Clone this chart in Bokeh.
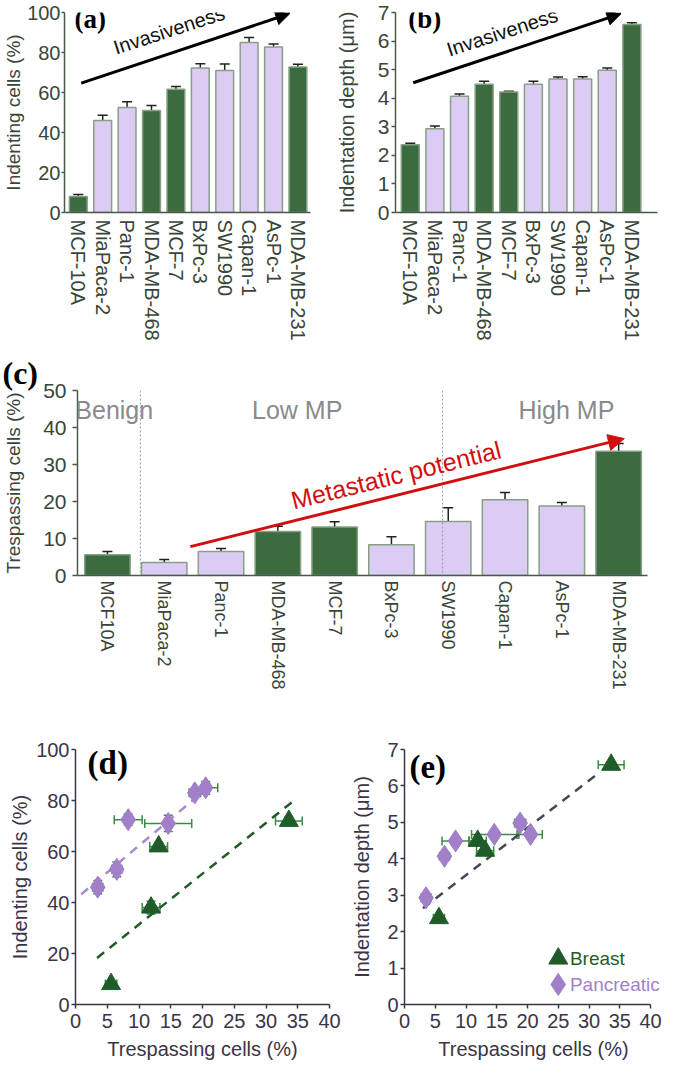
import numpy as np
from bokeh.plotting import figure
from bokeh.layouts import column, row
from bokeh.models import (ColumnDataSource, Range1d, FixedTicker, Whisker, TeeHead,
                          Arrow, NormalHead, Label, Span)
from bokeh.embed import file_html
from bokeh.resources import INLINE

# ---------------- data ----------------
cells_ab = ["MCF-10A", "MiaPaca-2", "Panc-1", "MDA-MB-468", "MCF-7",
            "BxPc-3", "SW1990", "Capan-1", "AsPc-1", "MDA-MB-231"]
cells_c = ["MCF10A", "MiaPaca-2", "Panc-1", "MDA-MB-468", "MCF-7",
           "BxPc-3", "SW1990", "Capan-1", "AsPc-1", "MDA-MB-231"]
tissue = ["breast", "pancreatic", "pancreatic", "breast", "breast",
          "pancreatic", "pancreatic", "pancreatic", "pancreatic", "breast"]
indenting = [8, 46, 52.5, 51, 61.6, 72.2, 71, 85, 82.8, 72.7]
indenting_err = [1.0, 2.6, 2.9, 2.5, 1.4, 2.2, 3.2, 2.5, 1.5, 1.4]
depth = [2.37, 2.93, 4.07, 4.49, 4.22, 4.49, 4.67, 4.67, 4.98, 6.58]
depth_err = [0.05, 0.10, 0.08, 0.10, 0.02, 0.10, 0.07, 0.08, 0.08, 0.06]
trespassing = [5.6, 3.5, 6.5, 11.9, 13.1, 8.3, 14.6, 20.5, 18.8, 33.6]
trespassing_err = [0.9, 0.8, 0.8, 1.4, 1.4, 2.2, 3.7, 1.9, 0.9, 2.1]
indenting_scatter = [8, 46, 53, 38, 62, 72.5, 71, 85, 83, 72]

yticks_a = [0, 20, 40, 60, 80, 100]
yticks_b = [0, 1, 2, 3, 4, 5, 6, 7]
yticks_c = [0, 10, 20, 30, 40, 50]
xticks_de = [0, 5, 10, 15, 20, 25, 30, 35, 40]
yticks_d = [0, 20, 40, 60, 80, 100]
yticks_e = [0, 1, 2, 3, 4, 5, 6, 7]

group_names = ["Benign", "Low MP", "High MP"]
group_centers = [0.12, 3.34, 8.08]
group_dividers = [0.58, 5.9]

# linear fits: slope, intercept, x-start, x-end
fit_d_breast = [1.99, 11.5, 3.4, 34.6]
fit_d_pancreatic = [2.1, 41.3, 0.9, 21.4]
fit_e_all = [0.13, 2.25, 3.0, 31.5]

# ---------------- style ----------------
FONT = "Liberation Sans"
SERIF = "Liberation Serif"
GREEN = "#3d6b40"
LAV = "#dccbf3"
BAR_LINE = "#86a086"
ERR = "#202020"
TXT_G = "#384538"
AX_G = "#4a574a"
TXT_P = "#3b3448"
SC_GREEN = "#1f5c2a"
SC_PURPLE = "#a27fc9"
SC_ERR = "#3b8a45"
GRAY_LBL = "#8a8a8a"
RED = "#d10f0f"

colors = [GREEN if t == "breast" else LAV for t in tissue]


def style_axes(p, txt, ax, tick_font="21px", title_font="20px"):
    p.xgrid.visible = False
    p.ygrid.visible = False
    p.outline_line_color = None
    for a in (p.xaxis[0], p.yaxis[0]):
        a.axis_line_color = ax
        a.axis_line_width = 1.5
        a.major_tick_line_color = ax
        a.major_tick_line_width = 1.5
        a.minor_tick_line_color = None
        a.major_tick_in = 0
        a.major_label_text_font = FONT
        a.major_label_text_font_size = tick_font
        a.major_label_text_color = txt
        a.axis_label_text_font = FONT
        a.axis_label_text_font_size = title_font
        a.axis_label_text_font_style = "normal"
        a.axis_label_text_color = txt


def bar_fig(width, height, borders, xr, yr, labels, values, errs, bw, yticks, ytitle,
            tick_out, label_standoff, title_standoff, title_font="20px", cat_font="20px",
            cat_standoff=7, tick_font="21px"):
    left, right, top, bottom = borders
    p = figure(width=width, height=height, x_range=Range1d(*xr), y_range=Range1d(*yr),
               output_backend="svg", toolbar_location=None,
               min_border_left=left, min_border_right=right,
               min_border_top=top, min_border_bottom=bottom)
    n = len(values)
    v = np.array(values, dtype=float)
    e = np.array(errs, dtype=float)
    src = ColumnDataSource(dict(x=np.arange(n), top=v, color=colors,
                                upper=v + e, lower=v - e))
    p.vbar(x="x", top="top", width=bw, source=src, fill_color="color",
           line_color=BAR_LINE, line_width=1.5)
    p.add_layout(Whisker(source=src, base="x", upper="upper", lower="lower",
                         line_color=ERR, line_width=1.5,
                         upper_head=TeeHead(size=10, line_color=ERR, line_width=1.5),
                         lower_head=TeeHead(size=10, line_color=ERR, line_width=1.5)))
    style_axes(p, TXT_G, AX_G, tick_font=tick_font, title_font=title_font)
    p.xaxis.ticker = FixedTicker(ticks=list(range(n)))
    p.xaxis.major_label_overrides = {i: lab for i, lab in enumerate(labels)}
    p.xaxis.major_label_orientation = "vertical"
    p.xaxis.major_label_text_font_size = cat_font
    p.xaxis.major_tick_line_color = None
    p.xaxis.major_tick_out = 0
    p.xaxis.major_label_standoff = cat_standoff
    p.yaxis.ticker = FixedTicker(ticks=yticks)
    p.yaxis.major_tick_out = tick_out
    p.yaxis.major_label_standoff = label_standoff
    p.yaxis.axis_label = ytitle
    p.yaxis.axis_label_standoff = title_standoff
    return p


# ---------------- (a) ----------------
pa = bar_fig(332, 352, (60, 22, 12, 140), (-0.565, 9.515), (0, 100), cells_ab,
             indenting, indenting_err, 0.73, yticks_a, "Indenting cells (%)",
             3, 1, 0, title_font="19px", tick_font="20px")
pa.add_layout(Arrow(x_start=0.12, y_start=64.7, x_end=8.67, y_end=99.5, line_width=3,
                    line_color="black",
                    end=NormalHead(size=14, fill_color="black", line_color="black")))
pa.add_layout(Label(x=1.61, y=77, text="Invasiveness", angle=0.315, text_font=FONT,
                    text_font_size="20px", text_color="#111111"))
pa.add_layout(Label(x=-0.16, y=97, text="(a)", text_font=SERIF, text_font_style="bold",
                    text_font_size="27px", text_baseline="middle", text_color="black"))

# ---------------- (b) ----------------
pb = bar_fig(330, 352, (59, 5, 12, 139), (-0.6, 10.04), (0, 7), cells_ab,
             depth, depth_err, 0.73, yticks_b, "Indentation depth (μm)",
             4, 2, 17)
pb.add_layout(Arrow(x_start=0.12, y_start=4.54, x_end=8.56, y_end=6.96, line_width=3,
                    line_color="black",
                    end=NormalHead(size=14, fill_color="black", line_color="black")))
pb.add_layout(Label(x=1.64, y=5.32, text="Invasiveness", angle=0.315, text_font=FONT,
                    text_font_size="20px", text_color="#111111"))
pb.add_layout(Label(x=-0.08, y=6.79, text="(b)", text_font=SERIF, text_font_style="bold",
                    text_font_size="27px", text_baseline="middle", text_color="black"))

# ---------------- (c) ----------------
pc = bar_fig(662, 358, (76, 15, 38, 135), (-0.527, 9.508), (0, 50), cells_c,
             trespassing, trespassing_err, 0.8, yticks_c, "Trespassing cells (%)",
             5, 6, 16, title_font="19px", cat_font="18px", cat_standoff=5)
pc.title.text = "(c)"
pc.title.text_font = SERIF
pc.title.text_font_style = "bold"
pc.title.text_font_size = "32px"
pc.title.text_color = "black"
pc.title.align = "left"
pc.title.offset = -75
pc.title.standoff = 0
for d in group_dividers:
    pc.add_layout(Span(location=d, dimension="height", line_color="#9a9a9a",
                       line_width=1, line_dash="2 2"))
for name, cx in zip(group_names, group_centers):
    pc.add_layout(Label(x=cx, y=44.6, text=name, text_font=FONT, text_font_size="25px",
                        text_color=GRAY_LBL, text_align="center", text_baseline="middle"))
pc.add_layout(Arrow(x_start=1.46, y_start=7.8, x_end=9.1, y_end=37.0, line_width=3,
                    line_color=RED,
                    end=NormalHead(size=16, fill_color=RED, line_color=RED)))
pc.add_layout(Label(x=3.3, y=16.5, text="Metastatic potential", angle=0.2426,
                    text_font=FONT, text_font_size="25px", text_color=RED))


# ---------------- scatter helpers ----------------
def scatter_fig(width, height, borders, xend, yr, yticks, ytitle, y_standoff, y_label_standoff):
    left, right, top, bottom = borders
    p = figure(width=width, height=height, x_range=Range1d(0, xend), y_range=Range1d(*yr),
               output_backend="svg", toolbar_location=None,
               min_border_left=left, min_border_right=right,
               min_border_top=top, min_border_bottom=bottom)
    style_axes(p, TXT_P, TXT_P, tick_font="20px")
    p.xaxis.ticker = FixedTicker(ticks=xticks_de)
    p.xaxis.bounds = (xticks_de[0], xticks_de[-1])
    p.yaxis.ticker = FixedTicker(ticks=yticks)
    p.xaxis.major_tick_out = 4
    p.yaxis.major_tick_out = 4
    p.xaxis.major_label_standoff = 5
    p.yaxis.major_label_standoff = y_label_standoff
    p.xaxis.axis_label = "Trespassing cells (%)"
    p.xaxis.axis_label_standoff = 7
    p.yaxis.axis_label = ytitle
    p.yaxis.axis_label_standoff = y_standoff
    return p


def add_points(p, yvals, yerrs, fits, fit_colors):
    x = np.array(trespassing, dtype=float)
    xe = np.array(trespassing_err, dtype=float)
    y = np.array(yvals, dtype=float)
    ye = np.array(yerrs, dtype=float)
    src = ColumnDataSource(dict(x=x, y=y, xl=x - xe, xu=x + xe, yl=y - ye, yu=y + ye))
    p.add_layout(Whisker(source=src, base="y", lower="xl", upper="xu", dimension="width",
                         line_color=SC_ERR, line_width=1.5, level="underlay",
                         upper_head=TeeHead(size=9, line_color=SC_ERR, line_width=1.5),
                         lower_head=TeeHead(size=9, line_color=SC_ERR, line_width=1.5)))
    p.add_layout(Whisker(source=src, base="x", lower="yl", upper="yu",
                         line_color=SC_ERR, line_width=1.5, level="underlay",
                         upper_head=TeeHead(size=9, line_color=SC_ERR, line_width=1.5),
                         lower_head=TeeHead(size=9, line_color=SC_ERR, line_width=1.5)))
    for f, c in zip(fits, fit_colors):
        s, b, x0, x1 = f
        xs = np.array([x0, x1])
        p.line(xs, s * xs + b, line_color=c, line_width=2.5, line_dash="9 7")
    br = [i for i, t in enumerate(tissue) if t == "breast"]
    pa_ = [i for i, t in enumerate(tissue) if t == "pancreatic"]
    p.scatter(x[pa_], y[pa_], marker="diamond", size=22, fill_color=SC_PURPLE,
              line_color=SC_PURPLE)
    p.scatter(x[br], y[br], marker="triangle", size=19, fill_color=SC_GREEN,
              line_color=SC_GREEN)


# ---------------- (d) ----------------
pd_ = scatter_fig(345, 356, (75, 16, 39, 62), 40, (0, 100), yticks_d,
                  "Indenting cells (%)", 2, 2)
add_points(pd_, indenting_scatter, indenting_err, [fit_d_pancreatic, fit_d_breast],
           ["#a88ad0", SC_GREEN])
pd_.add_layout(Label(x=1.9, y=94.9, text="(d)", text_font=SERIF, text_font_style="bold",
                     text_font_size="33px", text_baseline="middle", text_color="black"))

# ---------------- (e) ----------------
pe = scatter_fig(317, 356, (59, 0, 39, 62), 41.95, (0, 7), yticks_e,
                 "Indentation depth (μm)", 11, 2)
add_points(pe, depth, depth_err, [fit_e_all], ["#444a55"])
pe.add_layout(Label(x=0.8, y=6.51, text="(e)", text_font=SERIF, text_font_style="bold",
                    text_font_size="33px", text_baseline="middle", text_color="black"))
# legend
legend_rows = [("Breast", "triangle", SC_GREEN, 19, 1.26),
               ("Pancreatic", "diamond", SC_PURPLE, 22, 0.55)]
for name, mk, col, sz, ly in legend_rows:
    pe.scatter([25.0], [ly], marker=mk, size=sz, fill_color=col, line_color=col)
    pe.add_layout(Label(x=26.9, y=ly, text=name, text_font=FONT, text_font_size="19px",
                        text_color=col, text_baseline="middle"))

layout = column(row(pa, pb, spacing=0), pc, row(pd_, pe, spacing=0), spacing=0)

open("out.html", "w").write(file_html(layout, INLINE))
